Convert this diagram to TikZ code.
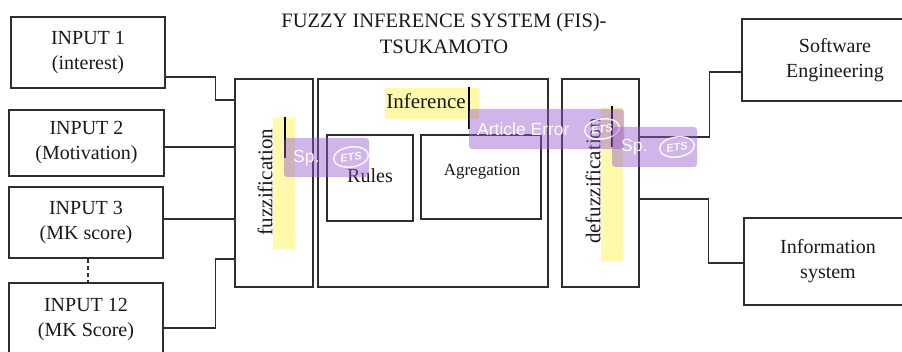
\documentclass[tikz,border=0pt]{standalone}
\usepackage{fontspec}
\setmainfont{Liberation Serif}
\newfontfamily\uisans{Liberation Sans}
\usetikzlibrary{calc,shapes.geometric}

\definecolor{ink}{HTML}{2E2E2E}
\definecolor{hilite}{RGB}{255,249,172}
\definecolor{tagviolet}{RGB}{150,90,210}

\tikzset{
  box/.style={draw=ink, line width=1.3pt, inner sep=0pt, align=center,
              text=black!90, font=\fontsize{20}{25}\selectfont},
  lbl/.style={inner sep=0pt, text=black!90, font=\fontsize{20}{25}\selectfont},
  wire/.style={draw=ink, line width=1.2pt},
  hiband/.style={fill=hilite, draw=none},
  caret/.style={draw=black, line width=2pt},
  tag/.style={fill=tagviolet, fill opacity=0.45, draw=none, rounded corners=3pt},
  tagtext/.style={text=white, text opacity=0.95, inner sep=0pt, anchor=west,
                  font=\uisans\fontsize{17.5}{17.5}\selectfont},
  etsring/.style={draw=white, draw opacity=0.9, line width=1.5pt, ellipse,
                  minimum width=35pt, minimum height=20pt, inner sep=0pt,
                  rotate=8, text=white, text opacity=0.9,
                  font=\uisans\bfseries\itshape\fontsize{11}{11}\selectfont}
}

\begin{document}
\begin{tikzpicture}[x=1pt,y=-1pt]
\useasboundingbox (0,0) rectangle (902,352);

% highlight bands behind the labels
\fill[hiband] (273,118) rectangle (295,249);
\fill[hiband] (385,88) rectangle (479,119);
\fill[hiband] (601,107) rectangle (623,261);

% title
\node[lbl, align=center, font=\fontsize{20.5}{26}\selectfont] (title) at (444,33)
  {FUZZY INFERENCE SYSTEM (FIS)-\\TSUKAMOTO};

% inputs
\node[box, minimum width=154pt, minimum height=71pt] (in1) at (88,52.5) {INPUT 1\\(interest)};
\node[box, minimum width=155pt, minimum height=66pt] (in2) at (86.5,143) {INPUT 2\\(Motivation)};
\node[box, minimum width=154pt, minimum height=71pt] (in3) at (86,222.5) {INPUT 3\\(MK score)};
\node[box, minimum width=154pt, minimum height=74pt] (in12) at (86,320) {INPUT 12\\(MK Score)};

% processing stages
\node[box, minimum width=78pt, minimum height=208pt] (fuzz) at (274,183) {};
\node[lbl, rotate=90, font=\fontsize{21}{21}\selectfont] (fuzzlbl) at (265,182) {fuzzification};

\node[box, minimum width=230pt, minimum height=208pt] (inf) at (433,183) {};
\node[lbl, font=\fontsize{21}{21}\selectfont] (inflbl) at (426,101) {Inference};
\node[box, minimum width=86pt, minimum height=86pt] (rules) at (370,178) {};
\node[lbl] (ruleslbl) at (370,176) {Rules};
\node[box, minimum width=120pt, minimum height=84pt] (agg) at (481,177) {};
\node[lbl, font=\fontsize{17}{17}\selectfont] (agglbl) at (482,172) {Agregation};

\node[box, minimum width=77pt, minimum height=208pt] (defuzz) at (600.5,183) {};
\node[lbl, rotate=90, font=\fontsize{21}{21}\selectfont] (defuzzlbl) at (593,181) {defuzzification};

% outputs
\node[box, minimum width=186pt, minimum height=82pt] (se) at (835,60) {Software\\Engineering};
\node[box, minimum width=168pt, minimum height=87pt] (is) at (828,261.5) {Information\\system};

% connectors into fuzzification
\draw[wire] ([yshift=-24.5pt]in1.east) -- ++(50,0) |- ([yshift=83pt]fuzz.west);
\draw[wire] ([yshift=-4pt]in2.east) -- ([yshift=-4pt]in2.east -| fuzz.west);
\draw[wire] ([yshift=3.5pt]in3.east) -- ([yshift=3.5pt]in3.east -| fuzz.west);
\draw[wire] ([yshift=-8pt]in12.east) -- ++(52,0) |- ([yshift=-76pt]fuzz.west);
\draw[wire, dash pattern=on 4pt off 3pt] ([xshift=2pt]in3.south) -- ([xshift=2pt]in12.north);

% connectors out of defuzzification
\draw[wire] ([yshift=46pt]defuzz.east) -- ++(70,0) |- ([yshift=-12pt]se.west);
\draw[wire] ([yshift=-16pt]defuzz.east) -- ++(69,0) |- ([yshift=-1.5pt]is.west);

% text cursors
\draw[caret] (285,117) -- (285,158);
\draw[caret] (469,87) -- (469,129);
\draw[caret] (612,106) -- (612,147);

% review tags
\fill[tag] (284,138) rectangle (369,177);
\node[tagtext] (sp1) at (293,158) {Sp.};
\node[etsring] (ets1) at (351,157) {ETS};

\fill[tag] (469,109) rectangle (624,149);
\node[tagtext] (art) at (477,129) {Article Error};
\node[etsring] (ets2) at (602,129) {ETS};

\fill[tag] (612,127) rectangle (697,167);
\node[tagtext] (sp2) at (621,147) {Sp.};
\node[etsring] (ets3) at (677,147) {ETS};
\end{tikzpicture}
\end{document}
